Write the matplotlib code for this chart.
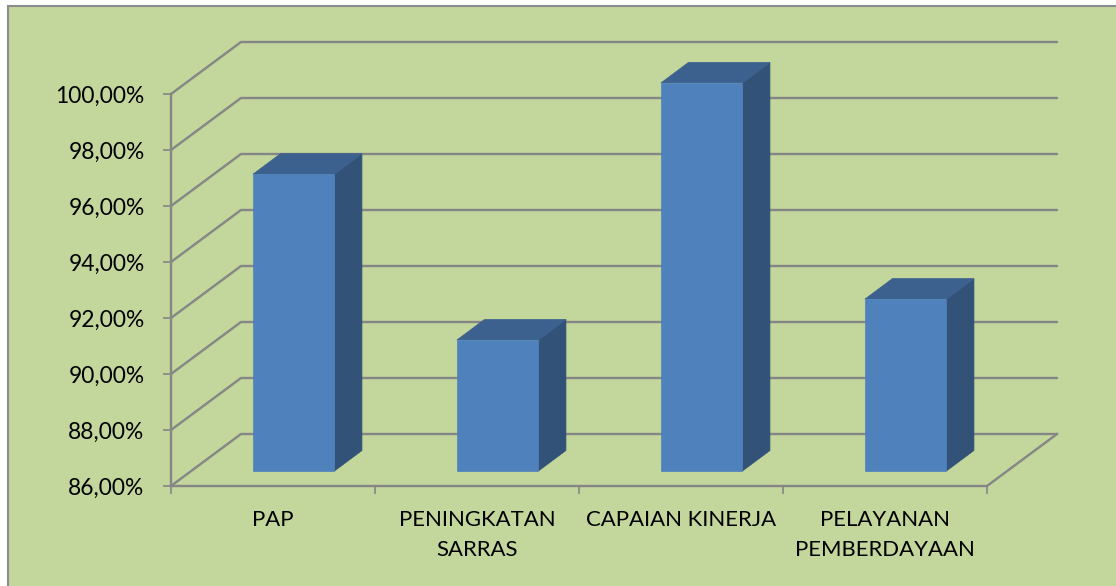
""" 3D looking column chart drawn on a flat axes """
import matplotlib
matplotlib.use("Agg")
import matplotlib.pyplot as plt
from matplotlib.patches import Polygon, Rectangle

categories = ["PAP", "PENINGKATAN\nSARRAS", "CAPAIAN KINERJA", "PELAYANAN\nPEMBERDAYAAN"]
values = [96.6, 90.68, 99.86, 92.14]
y_ticks = [86, 88, 90, 92, 94, 96, 98, 100]
y_labels = ["86,00%", "88,00%", "90,00%", "92,00%", "94,00%", "96,00%", "98,00%", "100,00%"]

W, H = 1116, 586
BG = "#C3D69B"
GREY = "#868686"
FRONT = "#4F81BD"
TOP = "#3D618F"
SIDE = "#325278"

plt.rcParams["font.family"] = ["Lato", "DejaVu Sans"]

fig = plt.figure(figsize=(W / 100, H / 100), dpi=100, facecolor="white")
fig.add_artist(Rectangle((7.5 / W, 0 - 0.01), 1.02, 1 - 5.5 / H + 0.01, transform=fig.transFigure,
                         facecolor=BG, edgecolor="#8C8C8C", linewidth=1.5, zorder=-1))

# plot box in pixels: x 171-987, y 94-486
ax = fig.add_axes([171 / W, 1 - 486 / H, 816 / W, 392 / H])
ax.set_xlim(0, 4)
ax.set_ylim(86, 100)
ax.patch.set_alpha(0)

# px to data units
px_x = 4 / 816
px_y = 14 / 392
depth_x = 70 * px_x
depth_y = 52 * px_y

# walls and gridlines
for v in y_ticks:
    ax.plot([0, depth_x, 4 + depth_x], [v, v + depth_y, v + depth_y], color=GREY, lw=1.7,
            clip_on=False, zorder=1, solid_capstyle="round")
ax.plot([4, 4 + depth_x], [86, 86 + depth_y], color=GREY, lw=1.7, clip_on=False, zorder=1)

# columns
bar_w = 81.5 * px_x
bar_dx = 27.5 * px_x
bar_dy = 20.5 * px_y
base = 86 + 15 * px_y
for i, v in enumerate(values):
    x0 = i + 0.5 + 20.7 * px_x - bar_w / 2
    x1 = x0 + bar_w
    top = v + 15 * px_y
    ax.add_patch(Polygon([(x1, base), (x1 + bar_dx, base + bar_dy), (x1 + bar_dx, top + bar_dy), (x1, top)],
                         facecolor=SIDE, edgecolor=SIDE, lw=0.5, clip_on=False, zorder=3))
    ax.add_patch(Polygon([(x0, top), (x0 + bar_dx, top + bar_dy), (x1 + bar_dx, top + bar_dy), (x1, top)],
                         facecolor=TOP, edgecolor=TOP, lw=0.5, clip_on=False, zorder=3))
    ax.add_patch(Polygon([(x0, base), (x1, base), (x1, top), (x0, top)],
                         facecolor=FRONT, edgecolor=FRONT, lw=0.5, clip_on=False, zorder=4))

for side in ["top", "right"]:
    ax.spines[side].set_visible(False)
for side in ["left", "bottom"]:
    ax.spines[side].set_color(GREY)
    ax.spines[side].set_linewidth(1.7)

ax.set_yticks(y_ticks)
ax.set_yticklabels(y_labels, fontsize=16.4, color="black")
ax.tick_params(axis="y", length=6, width=1.2, color=GREY, pad=13)

ax.set_xticks([0, 1, 2, 3, 4])
ax.set_xticklabels([])
ax.set_xticks([0.5, 1.5, 2.5, 3.5], labels=categories, minor=True)
ax.tick_params(axis="x", which="major", length=6, width=1.2, color=GREY)
ax.tick_params(axis="x", which="minor", length=0, pad=17, labelsize=15.9, labelcolor="black")
for lab in ax.get_xticklabels(minor=True):
    lab.set_linespacing(1.67)

fig.savefig("out.png", dpi=100, facecolor=fig.get_facecolor())
